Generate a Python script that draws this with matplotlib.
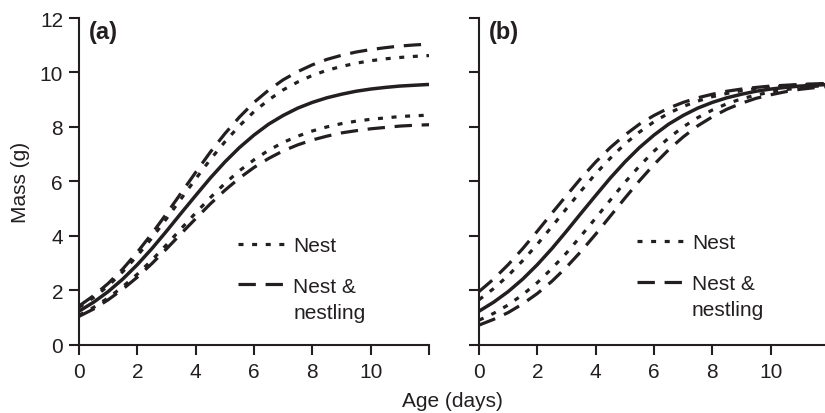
import matplotlib
matplotlib.use("Agg")
import matplotlib.pyplot as plt
from matplotlib.transforms import offset_copy

plt.rcParams['font.family'] = ['Liberation Sans', 'DejaVu Sans']
plt.rcParams['lines.scale_dashes'] = False

INK = '#231f20'

age = [0, 0.5, 1, 1.5, 2, 2.5, 3, 3.5, 4, 4.5, 5, 5.5, 6, 6.5, 7, 7.5, 8,
       8.5, 9, 9.5, 10, 10.5, 11, 11.5, 12]

mean_mass = [1.23, 1.56, 1.95, 2.41, 2.94, 3.53, 4.17, 4.83, 5.48, 6.12, 6.71,
             7.24, 7.70, 8.10, 8.42, 8.69, 8.90, 9.07, 9.20, 9.31, 9.39, 9.45,
             9.50, 9.53, 9.56]

# panel (a)
a_nest_hi = [1.37, 1.73, 2.16, 2.68, 3.27, 3.92, 4.63, 5.36, 6.09, 6.80, 7.45,
             8.04, 8.56, 8.99, 9.36, 9.65, 9.89, 10.08, 10.22, 10.34, 10.43,
             10.50, 10.55, 10.59, 10.62]
a_nest_lo = [1.08, 1.37, 1.72, 2.13, 2.59, 3.11, 3.67, 4.26, 4.84, 5.40, 5.92,
             6.39, 6.79, 7.14, 7.43, 7.66, 7.85, 8.00, 8.12, 8.21, 8.28, 8.33,
             8.38, 8.41, 8.43]
a_nn_hi = [1.42, 1.80, 2.25, 2.78, 3.40, 4.08, 4.81, 5.57, 6.33, 7.07, 7.75,
           8.36, 8.90, 9.35, 9.73, 10.03, 10.28, 10.48, 10.63, 10.75, 10.84,
           10.91, 10.97, 11.01, 11.04]
a_nn_lo = [1.04, 1.31, 1.65, 2.04, 2.48, 2.98, 3.52, 4.08, 4.63, 5.17, 5.67,
           6.12, 6.51, 6.84, 7.12, 7.34, 7.52, 7.66, 7.78, 7.86, 7.93, 7.98,
           8.03, 8.06, 8.08]

# panel (b)
b_nest_hi = [1.65, 2.06, 2.54, 3.09, 3.69, 4.34, 5.00, 5.65, 6.28, 6.85, 7.37,
             7.81, 8.19, 8.50, 8.75, 8.95, 9.11, 9.23, 9.33, 9.41, 9.46, 9.51,
             9.54, 9.57, 9.59]
b_nest_lo = [0.90, 1.15, 1.46, 1.84, 2.28, 2.80, 3.37, 4.00, 4.65, 5.31, 5.96,
             6.56, 7.11, 7.59, 8.00, 8.34, 8.62, 8.85, 9.03, 9.17, 9.28, 9.37,
             9.43, 9.49, 9.52]
b_nn_hi = [1.95, 2.41, 2.94, 3.53, 4.17, 4.83, 5.48, 6.12, 6.71, 7.24, 7.70,
           8.10, 8.42, 8.69, 8.90, 9.07, 9.20, 9.31, 9.39, 9.45, 9.50, 9.53,
           9.56, 9.58, 9.60]
b_nn_lo = [0.72, 0.93, 1.18, 1.50, 1.88, 2.33, 2.85, 3.43, 4.06, 4.72, 5.38,
           6.02, 6.62, 7.16, 7.63, 8.04, 8.37, 8.65, 8.87, 9.05, 9.18, 9.29,
           9.38, 9.44, 9.49]

x_ticks = [0, 2, 4, 6, 8, 10, 12]
x_ticklabels = ['0', '2', '4', '6', '8', '10', '']
y_ticks = [0, 2, 4, 6, 8, 10, 12]
y_ticklabels = ['0', '2', '4', '6', '8', '10', '12']
legend_labels = ['Nest', 'Nest &']
legend_extra = 'nestling'

DOT = (0, (3.6, 6.2))
DASH = (0, (12.5, 7.0))
LW = 2.3
FS = 15

fig = plt.figure(figsize=(8.25, 4.14), dpi=100)
ax_a = fig.add_axes([79 / 825, 68.3 / 414, 350 / 825, 326.7 / 414])
ax_b = fig.add_axes([479 / 825, 68.3 / 414, 350 / 825, 326.7 / 414])

panels = [
    (ax_a, a_nest_hi, a_nest_lo, a_nn_hi, a_nn_lo, '(a)', True, (0.454, 0.333)),
    (ax_b, b_nest_hi, b_nest_lo, b_nn_hi, b_nn_lo, '(b)', False, (0.451, 0.342)),
]

legends = []
for ax, nhi, nlo, nnhi, nnlo, tag, show_y, anchor in panels:
    ax.plot(age, mean_mass, color=INK, lw=2.5, solid_capstyle='butt')
    l_dot, = ax.plot(age, nhi, color=INK, lw=LW, linestyle=DOT, dash_capstyle='butt')
    ax.plot(age, nlo, color=INK, lw=LW, linestyle=DOT, dash_capstyle='butt')
    l_dash, = ax.plot(age, nnhi, color=INK, lw=LW, linestyle=DASH, dash_capstyle='butt')
    ax.plot(age, nnlo, color=INK, lw=LW, linestyle=DASH, dash_capstyle='butt')

    ax.set_xlim(0, 12)
    ax.set_ylim(0, 12)
    ax.set_xticks(x_ticks)
    ax.set_xticklabels(x_ticklabels)
    ax.set_yticks(y_ticks)
    if show_y:
        ax.set_yticklabels(y_ticklabels)
    else:
        ax.set_yticklabels([''] * len(y_ticks))
    for s in ['top', 'right']:
        ax.spines[s].set_visible(False)
    for s in ['left', 'bottom']:
        ax.spines[s].set_linewidth(1.5)
        ax.spines[s].set_color(INK)
    ax.tick_params(direction='out', length=7.5, width=1.5, color=INK,
                   labelsize=FS, labelcolor=INK)
    ax.tick_params(axis='x', pad=5)
    ax.tick_params(axis='y', pad=4)

    ax.text(0.028, 0.958, tag, transform=ax.transAxes, fontsize=17,
            fontweight='bold', color=INK, va='center', ha='left')

    leg = ax.legend([l_dot, l_dash], legend_labels, loc='upper left',
                    bbox_to_anchor=anchor, frameon=False, fontsize=FS,
                    handlelength=2.4, handletextpad=0.25, labelspacing=1.05,
                    borderpad=0, borderaxespad=0)
    for t in leg.get_texts():
        t.set_color(INK)
    legends.append((ax, leg))

ax_a.set_ylabel('Mass (g)', fontsize=FS, color=INK, labelpad=7)
fig.text(452 / 825, 1 - 402 / 414, 'Age (days)', fontsize=FS, color=INK,
         ha='center', va='center')

# second line of the two-line legend label, placed under "Nest &"
fig.canvas.draw()
inv = fig.transFigure.inverted()
for ax, leg in legends:
    bb = leg.get_texts()[1].get_window_extent()
    x0, y0 = inv.transform((bb.x0, bb.y0))
    tr = offset_copy(fig.transFigure, fig=fig, x=0, y=-26, units='dots')
    cy = inv.transform((0, (bb.y0 + bb.y1) / 2))[1]
    fig.text(x0, cy, legend_extra, transform=tr, fontsize=FS, color=INK,
             ha='left', va='center')

fig.savefig('out.png', dpi=100)
